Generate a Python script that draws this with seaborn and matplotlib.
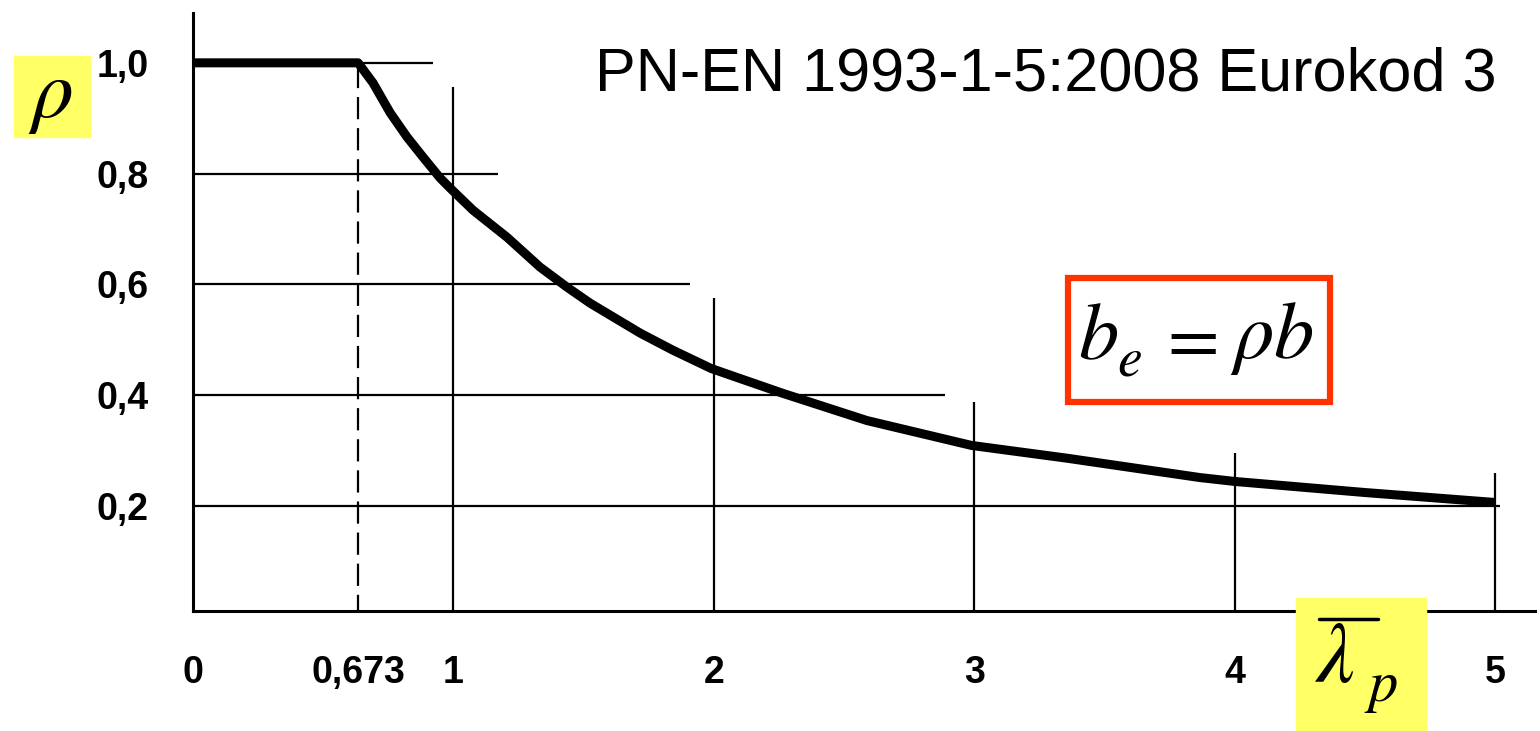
import numpy as np
import pandas as pd
import seaborn as sns
import matplotlib.pyplot as plt
from matplotlib.patches import Rectangle
from matplotlib.lines import Line2D

# reduction factor curve
lam = [0.0, 0.634, 0.691, 0.757, 0.822, 0.883, 0.949, 0.987, 1.075, 1.206, 1.333,
       1.436, 1.525, 1.717, 1.843, 1.99, 2.10, 2.266, 2.588, 2.99, 3.356, 3.867,
       4.0, 4.5, 5.0]
rho = [1.0, 1.0, 0.964, 0.91, 0.866, 0.83, 0.792, 0.774, 0.734, 0.685, 0.631,
       0.595, 0.566, 0.512, 0.481, 0.448, 0.43, 0.403, 0.354, 0.309, 0.286, 0.251,
       0.244, 0.224, 0.206]

# partial reference lines: level, end
h_levels = [1.0, 0.8, 0.6, 0.4, 0.2]
h_ends = [0.92, 1.17, 1.91, 2.89, 5.02]
v_levels = [1, 2, 3, 4, 5]
v_tops = [0.957, 0.575, 0.387, 0.295, 0.26]
lam_limit = 0.634  # where the 0,673 dashed line is drawn

x_ticks = [0, lam_limit, 1, 2, 3, 4, 5]
x_labels = ['0', '0,673', '1', '2', '3', '4', '5']
y_ticks = [0.2, 0.4, 0.6, 0.8, 1.0]
y_labels = ['0,2', '0,4', '0,6', '0,8', '1,0']

title = 'PN-EN 1993-1-5:2008 Eurokod 3'

sns.set_style('white')
plt.rcParams['font.family'] = ['Liberation Sans', 'DejaVu Sans']
plt.rcParams['mathtext.fontset'] = 'stix'
plt.rcParams['text.color'] = 'black'
plt.rcParams['xtick.labelcolor'] = 'black'
plt.rcParams['ytick.labelcolor'] = 'black'

W, H = 1540, 731
fig = plt.figure(figsize=(W / 100, H / 100), dpi=100)
ax = fig.add_axes([193 / W, 1 - 611 / H, (1535 - 193) / W, (611 - 13) / H])

df = pd.DataFrame({'lam': lam, 'rho': rho})
sns.lineplot(data=df, x='lam', y='rho', color='black', linewidth=6.5, ax=ax,
             solid_capstyle='butt', solid_joinstyle='round', zorder=5)

ax.hlines(h_levels, 0, h_ends, color='black', linewidth=1.6)
ax.vlines(v_levels, 0, v_tops, color='black', linewidth=1.6)
ax.vlines(lam_limit, 0, 1.0, color='black', linewidth=1.6, linestyles=(0, (10, 4)))

ax.set_xlim(0, 5.154)
ax.set_ylim(0.01, 1.09)
ax.set_xticks(x_ticks, x_labels)
ax.set_yticks(y_ticks, y_labels)
ax.tick_params(length=0, labelsize=27, pad=32)
for t in ax.get_xticklabels() + ax.get_yticklabels():
    t.set_fontweight('bold')
ax.set_xlabel('')
ax.set_ylabel('')
for s in ['top', 'right']:
    ax.spines[s].set_visible(False)
for s in ['left', 'bottom']:
    ax.spines[s].set_linewidth(2.2)
    ax.spines[s].set_color('black')

# yellow label boxes
fig.patches.append(Rectangle((14 / W, 1 - 137 / H), 76 / W, 81 / H,
                             transform=fig.transFigure, color='#FFFF66', zorder=0))
fig.text(50 / W, 1 - 97 / H, r'$\rho$', fontsize=60, ha='center', va='center')

fig.patches.append(Rectangle((1296 / W, 0), 130 / W, 133 / H,
                             transform=fig.transFigure, color='#FFFF66', zorder=0))
fig.text(1334 / W, 1 - 660 / H, r'$\lambda$', fontsize=62, ha='center', va='center')
fig.text(1381 / W, 1 - 688 / H, r'$p$', fontsize=42, ha='center', va='center')
fig.lines.append(Line2D([1319 / W, 1378 / W], [1 - 619 / H, 1 - 619 / H],
                        transform=fig.transFigure, color='black', linewidth=2.5))

# formula box
fig.patches.append(Rectangle((1068 / W, 1 - 402 / H), 262 / W, 124 / H,
                             transform=fig.transFigure, fill=False,
                             edgecolor='#FF3300', linewidth=4.5))
fig.text(1098 / W, 1 - 338 / H, r'$b$', fontsize=58, ha='center', va='center')
fig.text(1129 / W, 1 - 362 / H, r'$e$', fontsize=40, ha='center', va='center')
fig.text(1187 / W, 1 - 342 / H, r'$=$', fontsize=54, ha='center', va='center')
fig.text(1272 / W, 1 - 338 / H, r'$\rho b$', fontsize=58, ha='center', va='center')

fig.text(1497 / W, 1 - 75 / H, title, fontsize=44, ha='right', va='center')

fig.savefig('out.png', dpi=100)
